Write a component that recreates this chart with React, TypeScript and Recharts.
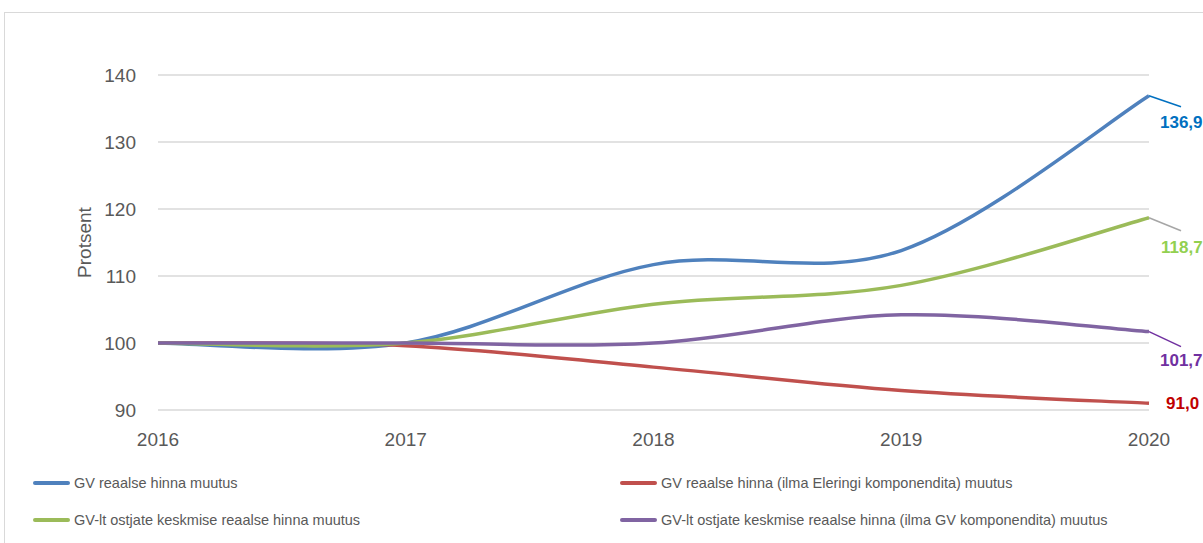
import { CartesianGrid, Label, LabelList, Line, LineChart, XAxis, YAxis } from "recharts";

const years = ["2016", "2017", "2018", "2019", "2020"];
const gvReal = [100, 100, 111.7, 113.8, 136.9];
const gvRealNoEleringi = [100, 99.6, 96.4, 92.9, 91.0];
const buyersAvg = [100, 100, 105.8, 108.6, 118.7];
const buyersAvgNoGv = [100, 100, 100.0, 104.2, 101.7];
const yTicks = [90, 100, 110, 120, 130, 140];

const series = [
  { key: "gvReal", name: "GV reaalse hinna muutus", color: "#4F81BD", labelColor: "#0070C0", leader: "#0070C0", dx: 11, dy: 26, lead: [32, 11] },
  { key: "gvRealNoEleringi", name: "GV reaalse hinna (ilma Eleringi komponendita) muutus", color: "#C0504D", labelColor: "#C00000", leader: null, dx: 17, dy: 0, lead: null },
  { key: "buyersAvg", name: "GV-lt ostjate keskmise reaalse hinna muutus", color: "#9BBB59", labelColor: "#92D050", leader: "#A6A6A6", dx: 12, dy: 29, lead: [32, 13] },
  { key: "buyersAvgNoGv", name: "GV-lt ostjate keskmise reaalse hinna (ilma GV komponendita) muutus", color: "#8064A2", labelColor: "#7030A0", leader: "#7030A0", dx: 11, dy: 28, lead: [32, 15] },
];

const data = years.map((year, i) => ({
  year,
  gvReal: gvReal[i],
  gvRealNoEleringi: gvRealNoEleringi[i],
  buyersAvg: buyersAvg[i],
  buyersAvgNoGv: buyersAvgNoGv[i],
}));

// Office-style smoothed line: uniform Catmull-Rom segments as cubic beziers
function officeSmooth(context: any) {
  let pts: number[][] = [];
  return {
    areaStart() {},
    areaEnd() {},
    lineStart() {
      pts = [];
    },
    point(x: number, y: number) {
      pts.push([+x, +y]);
    },
    lineEnd() {
      const n = pts.length;
      if (!n) return;
      context.moveTo(pts[0][0], pts[0][1]);
      for (let i = 0; i < n - 1; i++) {
        const p0 = pts[Math.max(i - 1, 0)];
        const p1 = pts[i];
        const p2 = pts[i + 1];
        const p3 = pts[Math.min(i + 2, n - 1)];
        context.bezierCurveTo(
          p1[0] + (p2[0] - p0[0]) / 6,
          p1[1] + (p2[1] - p0[1]) / 6,
          p2[0] - (p3[0] - p1[0]) / 6,
          p2[1] - (p3[1] - p1[1]) / 6,
          p2[0],
          p2[1],
        );
      }
    },
  };
}

const FONT = "'Liberation Sans', Arial, sans-serif";

function endLabel(s: (typeof series)[number]) {
  return (props: any) => {
    const { x, y, value, index } = props;
    if (index !== years.length - 1) return null;
    return (
      <g>
        {s.leader && s.lead && (
          <line x1={x} y1={y} x2={x + s.lead[0]} y2={y + s.lead[1]} stroke={s.leader} strokeWidth={1.5} />
        )}
        <text
          x={x + s.dx}
          y={y + s.dy + 6}
          fill={s.labelColor}
          fontSize={17}
          fontWeight="bold"
          fontFamily={FONT}
        >
          {Number(value).toFixed(1).replace(".", ",")}
        </text>
      </g>
    );
  };
}

const legendPos = [
  { left: 33, top: 483 },
  { left: 620, top: 483 },
  { left: 33, top: 520 },
  { left: 620, top: 520 },
];

export default function App() {
  return (
    <div
      style={{
        position: "fixed",
        left: 0,
        top: 0,
        width: 1203,
        height: 543,
        overflow: "hidden",
        background: "#fff",
        fontFamily: FONT,
      }}
    >
      <div
        style={{
          position: "absolute",
          left: 4,
          top: 12,
          width: 1300,
          height: 600,
          border: "1px solid #d9d9d9",
        }}
      />
      <div style={{ position: "absolute", left: 0, top: 0 }}>
        <LineChart width={1203} height={543} data={data} margin={{ top: 75, right: 54, bottom: 103, left: 58 }}>
          <CartesianGrid vertical={false} stroke="#d9d9d9" strokeWidth={1.5} />
          <XAxis
            dataKey="year"
            axisLine={false}
            tickLine={false}
            tickSize={0}
            tickMargin={23}
            tick={{ fill: "#595959", fontSize: 19, fontFamily: FONT }}
            interval={0}
          />
          <YAxis
            domain={[90, 140]}
            ticks={yTicks}
            width={100}
            axisLine={false}
            tickLine={false}
            tickSize={0}
            tickMargin={22}
            tick={{ fill: "#595959", fontSize: 19, fontFamily: FONT }}
          >
            <Label
              content={(props: any) => {
                const vb = props.viewBox;
                const cx = vb.x + 26;
                const cy = vb.y + vb.height / 2;
                return (
                  <text
                    x={cx}
                    y={cy}
                    transform={`rotate(-90, ${cx}, ${cy})`}
                    textAnchor="middle"
                    dominantBaseline="central"
                    fill="#595959"
                    fontSize={19}
                    fontFamily={FONT}
                  >
                    Protsent
                  </text>
                );
              }}
            />
          </YAxis>
          {series.map((s) => (
            <Line
              key={s.key}
              dataKey={s.key}
              name={s.name}
              type={officeSmooth as any}
              stroke={s.color}
              strokeWidth={3.5}
              dot={false}
              activeDot={false}
              isAnimationActive={false}
            >
              <LabelList dataKey={s.key} content={endLabel(s)} />
            </Line>
          ))}
        </LineChart>
      </div>
      {series.map((s, i) => (
        <div
          key={s.key}
          style={{
            position: "absolute",
            left: legendPos[i].left,
            top: legendPos[i].top - 10,
            height: 20,
            display: "flex",
            alignItems: "center",
            whiteSpace: "nowrap",
            fontSize: 14.5,
            color: "#595959",
          }}
        >
          <span
            style={{
              display: "inline-block",
              width: 37,
              height: 3.5,
              background: s.color,
              borderRadius: 2,
              marginRight: 4,
            }}
          />
          {s.name}
        </div>
      ))}
    </div>
  );
}
